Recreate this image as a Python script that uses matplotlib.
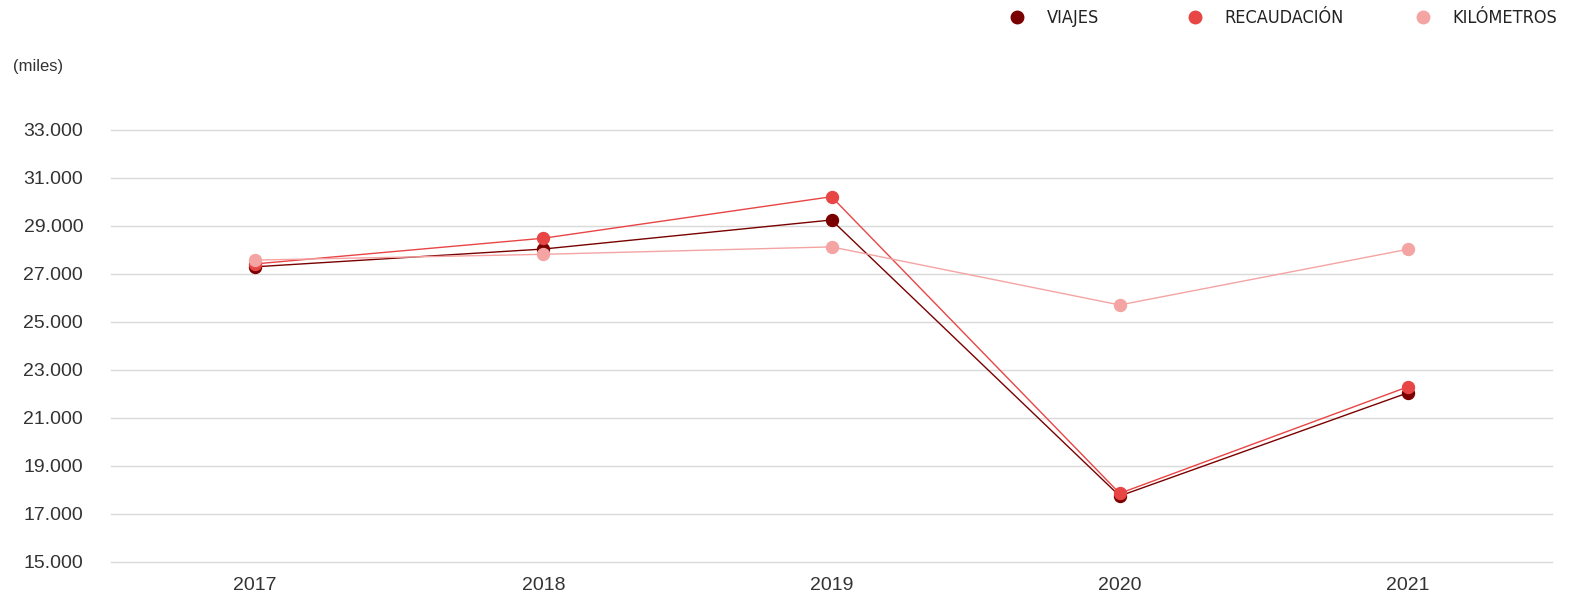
import matplotlib
matplotlib.use('Agg')
import matplotlib.pyplot as plt
from matplotlib.lines import Line2D
from matplotlib.ticker import FuncFormatter

# data (miles)
years = ['2017', '2018', '2019', '2020', '2021']
viajes = [27300, 28040, 29250, 17750, 22050]
recaudacion = [27420, 28490, 30220, 17860, 22300]
kilometros = [27580, 27820, 28130, 25710, 28030]

series = [
    ('VIAJES', viajes, '#7a0000'),
    ('RECAUDACIÓN', recaudacion, '#e84545'),
    ('KILÓMETROS', kilometros, '#f4a4a2'),
]

W, H = 1582, 598
fig = plt.figure(figsize=(W / 100, H / 100), dpi=100)
# axes box in pixels: left 111, right 1552, y 15000 at 562, 34000 at 106
ax = fig.add_axes([111 / W, (H - 562) / H, (1552 - 111) / W, (562 - 106) / H])

x = range(len(years))
for name, vals, col in series:
    ax.plot(x, vals, color=col, lw=1.0, marker='o', ms=8.6, mec=col, mfc=col,
            solid_capstyle='round', zorder=3)

ax.set_xlim(-0.5, len(years) - 0.5)
ax.set_ylim(15000, 34000)
ax.set_yticks(range(15000, 33001, 2000))
ax.yaxis.set_major_formatter(FuncFormatter(lambda v, _: f'{int(v):,}'.replace(',', '.')))
ax.set_xticks(list(x))
ax.set_xticklabels(years)
ax.grid(axis='y', color='#d9d9d9', lw=1.0)
for gl in ax.get_ygridlines():
    gl.set_clip_on(False)
ax.set_axisbelow(True)
for s in ax.spines.values():
    s.set_visible(False)
ax.tick_params(axis='both', length=0, labelsize=14, colors='#333333')
ax.tick_params(axis='y', pad=20)
ax.tick_params(axis='x', pad=11)
for lab in ax.get_xticklabels() + ax.get_yticklabels():
    lab.set_family(['Liberation Sans', 'DejaVu Sans'])

fig.text(13 / W, 1 - 67 / H, '(miles)', fontsize=12, color='#333333',
         va='center', ha='left', family=['Liberation Sans', 'DejaVu Sans'])

# legend, one entry at a time to control spacing
leg_x = [1017, 1195, 1423]
for (name, vals, col), px in zip(series, leg_x):
    h = Line2D([], [], color=col, marker='o', ls='none', ms=9)
    fig.legend(handles=[h], labels=[name], loc='center left',
               bbox_to_anchor=((px - 9) / W, 1 - 18 / H), frameon=False,
               handlelength=1.0, handletextpad=1.15, borderpad=0, borderaxespad=0,
               prop={'family': 'DejaVu Sans', 'stretch': 'condensed', 'size': 13},
               labelcolor='#222222')

fig.savefig('out.png', dpi=100, facecolor='white')
